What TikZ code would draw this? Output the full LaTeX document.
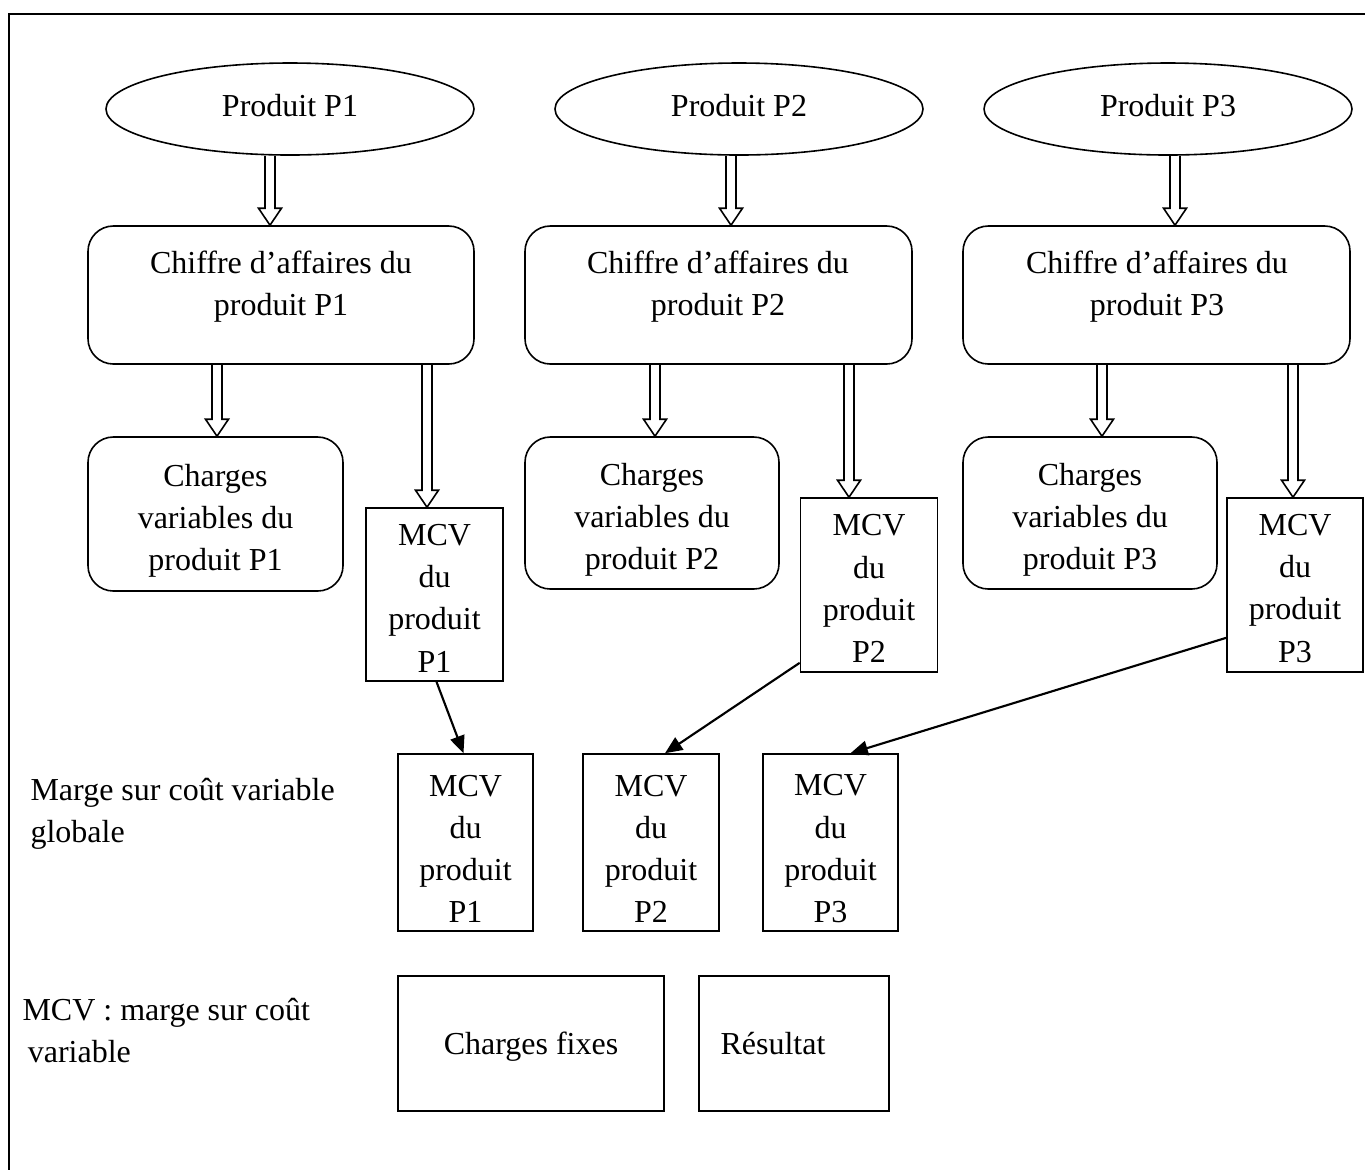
\documentclass[tikz,border=0pt]{standalone}
\usepackage{fontspec}
\setmainfont{Liberation Serif}
\usetikzlibrary{arrows.meta,shapes.geometric,calc}

% one drawing unit = 0.375pt
\newcommand\hollowarrow[3]{% #1: x of the arrow, #2: source node, #3: target node
  \draw[hollow] let \p1=(#2.south), \p2=(#3.north) in
    ({(#1-5)*0.375pt},\y1) -- ({(#1-5)*0.375pt},{\y2+17*0.375pt})
    -- ({(#1-11.5)*0.375pt},{\y2+17*0.375pt}) -- ({#1*0.375pt},\y2)
    -- ({(#1+11.5)*0.375pt},{\y2+17*0.375pt}) -- ({(#1+5)*0.375pt},{\y2+17*0.375pt})
    -- ({(#1+5)*0.375pt},\y1);}

\begin{document}
\begin{tikzpicture}[x=0.375pt,y=-0.375pt,
  every node/.style={font=\fontsize{12}{15.8}\selectfont, inner sep=0pt, align=center},
  sz/.style 2 args={minimum width=#1*0.375pt, minimum height=#2*0.375pt},
  intext/.style 2 args={label={[align=center, yshift=#1]center:{#2}}},
  prod/.style={draw, line width=0.6pt, ellipse},
  rbox/.style={draw, line width=0.6pt, rectangle, rounded corners=9.5pt},
  sbox/.style={draw, line width=0.6pt, rectangle},
  hollow/.style={line width=0.6pt, line join=miter},
  pointer/.style={line width=0.8pt, -{Triangle[length=6.5pt, width=5.5pt]}},
  txt/.style={align=center}]

\useasboundingbox (0,0) rectangle (1365,1169);
\draw[line width=0.8pt] (9,14) rectangle (1400,1200);

% products
\node[prod, sz={368}{92}, intext={1.2pt}{Produit P1}] (e1) at (290,109) {};
\node[prod, sz={368}{92}, intext={1.2pt}{Produit P2}] (e2) at (739,109) {};
\node[prod, sz={368}{92}, intext={1.2pt}{Produit P3}] (e3) at (1168,109) {};

% turnover per product
\node[rbox, sz={386}{138}] (r1) at (281,295) {};
\node[rbox, sz={387}{138}] (r2) at (718.5,295) {};
\node[rbox, sz={387}{138}] (r3) at (1156.5,295) {};
\node[txt] (r1t) at (281,287) {Chiffre d’affaires du\\produit P1};
\node[txt] (r2t) at (718,287) {Chiffre d’affaires du\\produit P2};
\node[txt] (r3t) at (1157,287) {Chiffre d’affaires du\\produit P3};

% variable costs
\node[rbox, sz={255}{154}, intext={-2.5pt}{Charges\\variables du\\produit P1}] (c1) at (215.5,514) {};
\node[rbox, sz={254}{152}, intext={-2.5pt}{Charges\\variables du\\produit P2}] (c2) at (652,513) {};
\node[rbox, sz={254}{152}, intext={-2.5pt}{Charges\\variables du\\produit P3}] (c3) at (1090,513) {};

% contribution margins per product
\node[sbox, sz={137}{173}, intext={-1.4pt}{MCV\\du\\produit\\P1}] (m1) at (434.5,594.5) {};
\node[sbox, sz={137}{174}, intext={-1.3pt}{MCV\\du\\produit\\P2}] (m2) at (869,585) {};
\node[sbox, sz={136}{174}, intext={-1.3pt}{MCV\\du\\produit\\P3}] (m3) at (1295,585) {};

% overall margin
\node[sbox, sz={135}{177}, intext={-2.3pt}{MCV\\du\\produit\\P1}] (b1) at (465.5,842.5) {};
\node[sbox, sz={136}{177}, intext={-2.3pt}{MCV\\du\\produit\\P2}] (b2) at (651,842.5) {};
\node[sbox, sz={135}{177}, intext={-2.3pt}{MCV\\du\\produit\\P3}] (b3) at (830.5,842.5) {};

% fixed costs and result
\node[sbox, sz={266}{135}, intext={-1.1pt}{Charges fixes}] (cf) at (531,1043.5) {};
\node[sbox, sz={190}{135}] (res) at (794,1043.5) {};
\node[anchor=west] (rest) at (720,1043.5) {Résultat};

% side labels
\node[anchor=north west, align=left] (lab1) at (30,778) {Marge sur coût variable\\globale};
\node[anchor=north west, align=left] (lab2) at (22,998) {MCV : marge sur coût\\\hspace*{2pt}variable};

% hollow arrows
\hollowarrow{270}{e1}{r1}
\hollowarrow{731}{e2}{r2}
\hollowarrow{1175}{e3}{r3}
\hollowarrow{217}{r1}{c1}
\hollowarrow{427}{r1}{m1}
\hollowarrow{655}{r2}{c2}
\hollowarrow{849}{r2}{m2}
\hollowarrow{1102}{r3}{c3}
\hollowarrow{1293}{r3}{m3}

% margins gathered into the overall margin
\draw[pointer] ($(m1.south)+(2,0)$) -- ($(b1.north)+(-2,0)$);
\draw[pointer] ($(m2.south west)+(0,-10)$) -- ($(b2.north)+(14,0)$);
\draw[pointer] ($(m3.south west)+(0,-35)$) -- ($(b3.north)+(20,0)$);
\end{tikzpicture}
\end{document}
